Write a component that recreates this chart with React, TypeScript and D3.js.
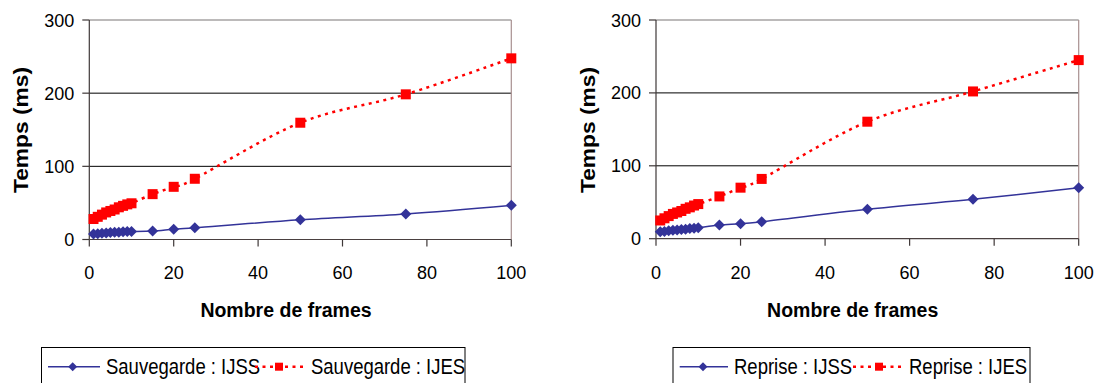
import React from "react";
import * as d3 from "d3";

const frames = [1, 2, 3, 4, 5, 6, 7, 8, 9, 10, 15, 20, 25, 50, 75, 100];
const sauvegardeIJSS = [7.5, 8, 8.5, 9, 9.5, 10, 10, 10.5, 11, 11, 11.5, 14, 16, 27, 35, 46.7];
const sauvegardeIJES = [28, 31, 34, 37, 39, 41, 44, 46, 48, 49.5, 62, 72, 83, 159.6, 198.4, 247.6];
const repriseIJSS = [9.5, 10, 11, 11.5, 12, 12.5, 13, 14, 14.5, 15, 18.8, 20.6, 23.3, 40.3, 54, 70];
const repriseIJES = [25, 28, 31, 34, 36, 38, 41, 43, 45.5, 47.5, 58, 70, 82, 160.5, 202, 245];
const xTicks = [0, 20, 40, 60, 80, 100];
const yTicks = [0, 100, 200, 300];
const xTitle = "Nombre de frames";
const yTitle = "Temps (ms)";
const leftLegend = ["Sauvegarde : IJSS", "Sauvegarde : IJES"];
const rightLegend = ["Reprise : IJSS", "Reprise : IJES"];

const FONT = "'Liberation Sans', Arial, sans-serif";
const BLUE = "#333399";
const RED = "#FF0000";

type ChartProps = {
  left: number;
  right: number;
  top: number;
  bottom: number;
  s1: number[];
  s2: number[];
  legend: string[];
  yTitleX: number;
  xTitleX: number;
  legendBox: [number, number];
  legendItems: { l1: [number, number]; m1: number; t1: number; l2: [number, number]; m2: number; t2: number };
};

function Diamond({ x, y, r, fill }: { x: number; y: number; r: number; fill: string }) {
  return <path d={`M${x},${y - r}L${x + r},${y}L${x},${y + r}L${x - r},${y}Z`} fill={fill} />;
}

function Chart(p: ChartProps) {
  const x = d3.scaleLinear().domain([0, 100]).range([p.left, p.right]);
  const y = d3.scaleLinear().domain([0, 300]).range([p.bottom, p.top]);
  const line = d3
    .line<[number, number]>()
    .x((d) => x(d[0]))
    .y((d) => y(d[1]))
    .curve(d3.curveCardinal.tension(0));
  const d1 = frames.map((f, i) => [f, p.s1[i]] as [number, number]);
  const d2 = frames.map((f, i) => [f, p.s2[i]] as [number, number]);
  const li = p.legendItems;
  const ly = 366.7;
  const lb = 374.3;
  return (
    <g fontFamily={FONT}>
      {[100, 200].map((t) => (
        <line key={t} x1={p.left} x2={p.right} y1={y(t)} y2={y(t)} stroke="#000" strokeWidth={1} />
      ))}
      <line x1={p.left} x2={p.right} y1={y(300)} y2={y(300)} stroke="#7a7676" strokeWidth={1.2} />
      <line x1={p.right} x2={p.right} y1={p.top} y2={p.bottom} stroke="#a89090" strokeWidth={1.2} />
      <line x1={p.left} x2={p.left} y1={p.top} y2={p.bottom} stroke="#3f3838" strokeWidth={1.2} />
      <line x1={p.left} x2={p.right} y1={p.bottom} y2={p.bottom} stroke="#4a4040" strokeWidth={1.2} />
      {yTicks.map((t) => (
        <g key={t}>
          <line x1={p.left - 7} x2={p.left} y1={y(t)} y2={y(t)} stroke="#3f3838" strokeWidth={1.2} />
          <text x={p.left - 15} y={y(t) + 6.5} textAnchor="end" fontSize={18} fill="#000">
            {t}
          </text>
        </g>
      ))}
      {xTicks.map((t) => (
        <g key={t}>
          <line x1={x(t)} x2={x(t)} y1={p.bottom} y2={p.bottom + 7} stroke="#3f3838" strokeWidth={1.2} />
          <text x={x(t)} y={279} textAnchor="middle" fontSize={18} fill="#000">
            {t}
          </text>
        </g>
      ))}
      <text x={p.xTitleX} y={317} textAnchor="middle" fontSize={19.5} fontWeight="bold" fill="#000">
        {xTitle}
      </text>
      <text
        transform={`translate(${p.yTitleX},${130}) rotate(-90)`}
        x={-63}
        y={0}
        textLength={126}
        lengthAdjust="spacingAndGlyphs"
        fontSize={19.5}
        fontWeight="bold"
        fill="#000"
      >
        {yTitle}
      </text>
      <path d={line(d1) || ""} fill="none" stroke={BLUE} strokeWidth={1.5} />
      <path d={line(d2) || ""} fill="none" stroke={RED} strokeWidth={2.5} strokeDasharray="3,4.5" />
      {d1.map((d, i) => (
        <Diamond key={"a" + i} x={x(d[0])} y={y(d[1])} r={5.5} fill={BLUE} />
      ))}
      {d2.map((d, i) => (
        <rect key={"b" + i} x={x(d[0]) - 5} y={y(d[1]) - 5} width={10} height={10} fill={RED} />
      ))}
      <rect
        x={p.legendBox[0]}
        y={347.5}
        width={p.legendBox[1] - p.legendBox[0]}
        height={50}
        fill="#fff"
        stroke="#000"
        strokeWidth={1}
      />
      <line x1={li.l1[0]} x2={li.l1[1]} y1={ly} y2={ly} stroke={BLUE} strokeWidth={1.5} />
      <Diamond x={li.m1} y={ly} r={4.5} fill={BLUE} />
      <text transform={`translate(${li.t1},${lb}) scale(1,1.16)`} fontSize={18.5} fill="#000">
        {p.legend[0]}
      </text>
      <line x1={li.l2[0]} x2={li.l2[1]} y1={ly} y2={ly} stroke={RED} strokeWidth={2.5} strokeDasharray="3,4.5" />
      <rect x={li.m2 - 4} y={ly - 4} width={8} height={8} fill={RED} />
      <text transform={`translate(${li.t2},${lb}) scale(1,1.16)`} fontSize={18.5} fill="#000">
        {p.legend[1]}
      </text>
    </g>
  );
}

export default function App() {
  return (
    <svg
      width={1098}
      height={383}
      style={{ position: "absolute", left: 0, top: 0, display: "block", background: "#fff" }}
    >
      <rect width={1098} height={383} fill="#fff" />
      <Chart
        left={89.3}
        right={511.3}
        top={20}
        bottom={239.5}
        s1={sauvegardeIJSS}
        s2={sauvegardeIJES}
        legend={leftLegend}
        yTitleX={28}
        xTitleX={286}
        legendBox={[41.5, 465]}
        legendItems={{ l1: [48, 100], m1: 72.7, t1: 106, l2: [255, 303], m2: 279, t2: 311 }}
      />
      <Chart
        left={656}
        right={1078.7}
        top={20}
        bottom={238.7}
        s1={repriseIJSS}
        s2={repriseIJES}
        legend={rightLegend}
        yTitleX={595}
        xTitleX={852.7}
        legendBox={[673, 1030]}
        legendItems={{ l1: [679.7, 728], m1: 703, t1: 734, l2: [853, 902], m2: 879, t2: 909 }}
      />
    </svg>
  );
}
